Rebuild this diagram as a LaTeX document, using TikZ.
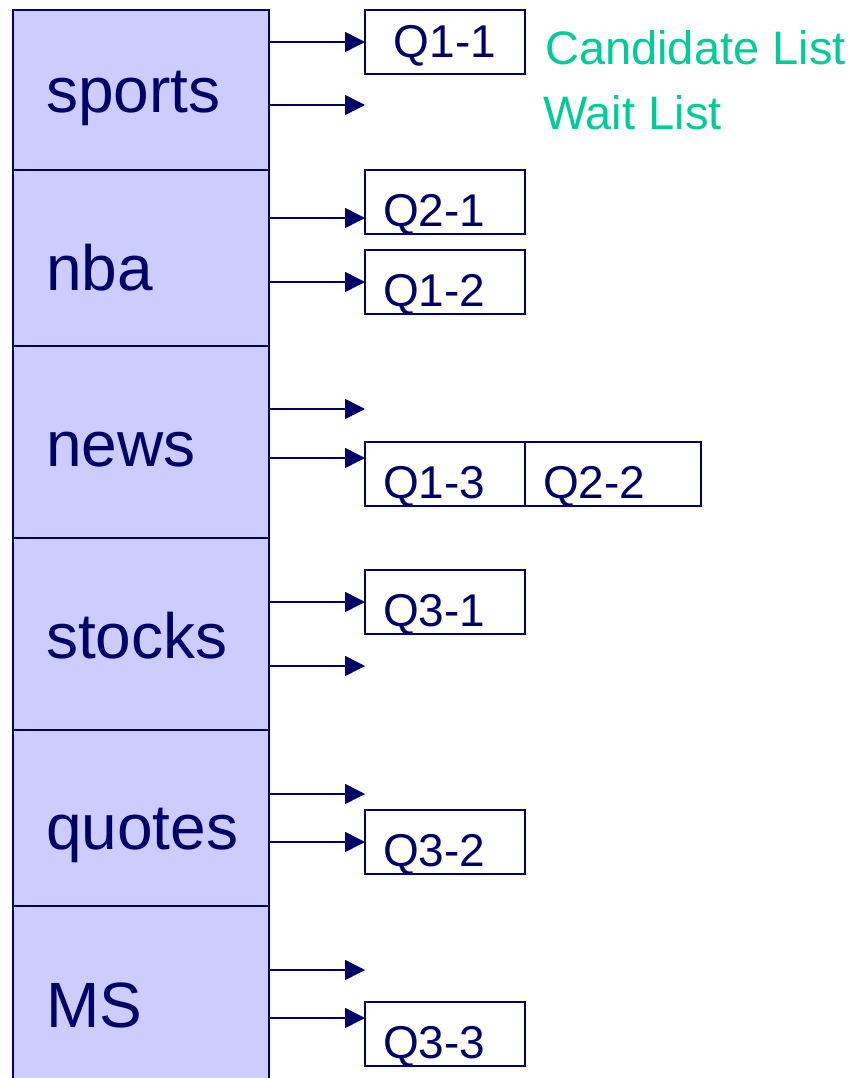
\documentclass[tikz,border=0pt]{standalone}
\usepackage{fontspec}
\setmainfont{Liberation Sans}
\usetikzlibrary{positioning,arrows.meta}

\definecolor{navy}{RGB}{0,0,102}
\definecolor{lav}{RGB}{204,204,255}
\definecolor{mint}{RGB}{0,204,153}
\newcommand{\rowfont}{\fontsize{64}{70}\selectfont}
\newcommand{\qfont}{\fontsize{46}{50}\selectfont}
\newcommand{\legfont}{\fontsize{47}{52}\selectfont}

\tikzset{
  qbox/.style={draw=navy, line width=1.5pt, anchor=north west, minimum width=160pt,
    inner xsep=18pt, inner ysep=0pt, text width=124pt, align=left,
    text height=56pt, text depth=8pt, outer sep=0pt, font=\qfont, text=navy},
  ptr/.style={draw=navy, line width=1.5pt, -{Triangle[length=20pt,width=20pt]}}
}

\begin{document}
\begin{tikzpicture}[x=1pt,y=-1pt]
        \useasboundingbox (0,0) rectangle (859,1078);

        % keyword column
        \begin{scope}[every node/.style={draw=navy, fill=lav, line width=2pt, anchor=north west,
            minimum width=256pt, inner sep=0pt, outer sep=0pt}]
          \node[minimum height=160pt] (sports) at (13,10)  {};
          \node[minimum height=176pt] (nba)    at (13,170) {};
          \node[minimum height=192pt] (news)   at (13,346) {};
          \node[minimum height=192pt] (stocks) at (13,538) {};
          \node[minimum height=176pt] (quotes) at (13,730) {};
          \node[minimum height=200pt] (ms)     at (13,906) {};
        \end{scope}

        \begin{scope}[every node/.style={anchor=base west, inner sep=0pt, font=\rowfont, text=navy}]
          \node (sportstxt) at (46,113)  {sports};
          \node (nbatxt)    at (46,290)  {nba};
          \node (newstxt)   at (46,466)  {news};
          \node (stockstxt) at (46,658)  {stocks};
          \node (quotestxt) at (46,849)  {quotes};
          \node (mstxt)     at (46,1027) {MS};
        \end{scope}

        % query lists
        \node[qbox, align=center, text height=48pt, text depth=16pt] (q11) at (365,10) {Q1-1};
        \node[qbox] (q21) at (365,170)  {Q2-1};
        \node[qbox] (q12) at (365,250)  {Q1-2};
        \node[qbox] (q13) at (365,442)  {Q1-3};
        \node[qbox, minimum width=176pt, text width=140pt, right=0pt of q13] (q22) {Q2-2};
        \node[qbox] (q31) at (365,570)  {Q3-1};
        \node[qbox] (q32) at (365,810)  {Q3-2};
        \node[qbox] (q33) at (365,1002) {Q3-3};

        \begin{scope}[every node/.style={anchor=base west, inner sep=0pt, font=\legfont, text=mint}]
          \node (cand) at (545,65)  {Candidate List};
          \node (wait) at (543,130) {Wait List};
        \end{scope}

        % arrow ends
        \coordinate (sportsw) at (365,105);
        \coordinate (nbac)    at ([yshift=-16pt]q21.west);
        \coordinate (newsc)   at (365,409);
        \coordinate (newsw)   at ([yshift=16pt]q13.west);
        \coordinate (stocksw) at (365,666);
        \coordinate (quotesc) at (365,794);
        \coordinate (msc)     at (365,970);
        \coordinate (msw)     at ([yshift=16pt]q33.west);

        \begin{scope}[every edge/.style={ptr}]
          \path (sports.east |- q11.west) edge (q11.west);
          \path (sports.east |- sportsw)  edge (sportsw);
          \path (nba.east |- nbac)        edge (nbac);
          \path (nba.east |- q12.west)    edge (q12.west);
          \path (news.east |- newsc)      edge (newsc);
          \path (news.east |- newsw)      edge (newsw);
          \path (stocks.east |- q31.west) edge (q31.west);
          \path (stocks.east |- stocksw)  edge (stocksw);
          \path (quotes.east |- quotesc)  edge (quotesc);
          \path (quotes.east |- q32.west) edge (q32.west);
          \path (ms.east |- msc)          edge (msc);
          \path (ms.east |- msw)          edge (msw);
        \end{scope}

      \end{tikzpicture}
\end{document}
